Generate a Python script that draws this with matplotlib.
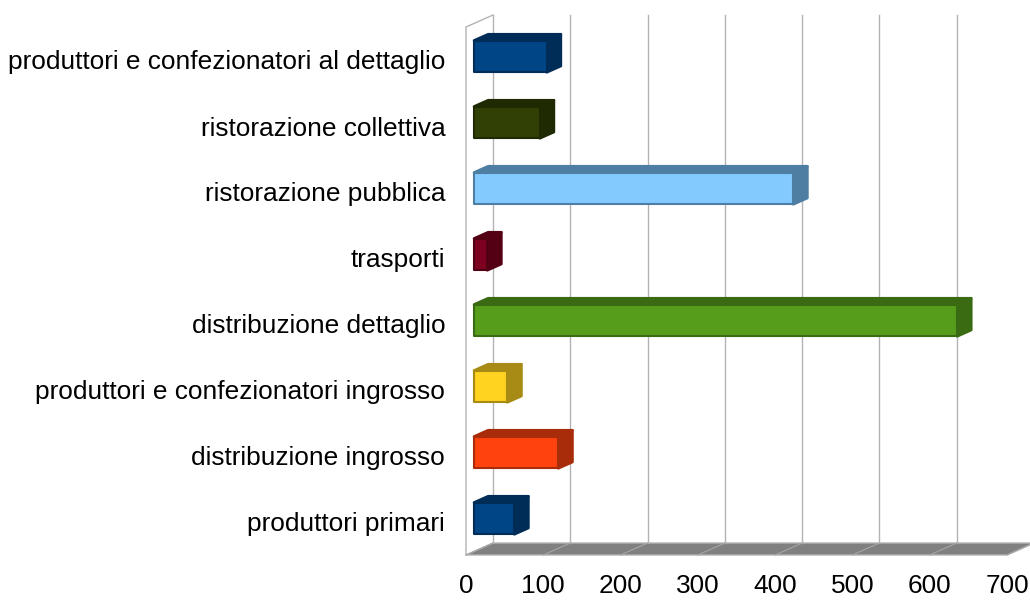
import numpy as np
import matplotlib.pyplot as plt
from matplotlib.patches import Polygon

plt.rcParams['font.family'] = ['Liberation Sans', 'DejaVu Sans']

categorie = ["produttori primari", "distribuzione ingrosso",
             "produttori e confezionatori ingrosso", "distribuzione dettaglio",
             "trasporti", "ristorazione pubblica", "ristorazione collettiva",
             "produttori e confezionatori al dettaglio"]
valori = [52, 109, 43, 625, 17, 413, 85, 94]
colori = ["#004586", "#ff420e", "#ffd320", "#579d1c",
          "#7e0021", "#83caff", "#314004", "#004586"]
scuri = ["#002d58", "#a82c09", "#a88b14", "#3a6a12",
         "#530015", "#4f7ea3", "#1f2902", "#002d58"]
tick_x = np.arange(0, 701, 100)

fig = plt.figure(figsize=(10.3, 6.03), dpi=100)
ax = fig.add_axes([466 / 1030, 48 / 603, 541 / 1030, 528 / 603])
ax.set_xlim(0, 700)
ax.set_ylim(-0.5, 7.5)

# spostamento prospettico (profondita')
dx = 27 / 541 * 700
dy = 12 / 528 * 8

# pavimento
pav = Polygon([(0, -0.5), (700, -0.5), (700 + dx, -0.5 + dy), (dx, -0.5 + dy)],
              closed=True, fc="#808080", ec="#b3b3b3", lw=1, clip_on=False, zorder=1)
ax.add_patch(pav)
for v in tick_x:
    ax.plot([v, v + dx], [-0.5, -0.5 + dy], color="#a6a6a6", lw=0.8,
            clip_on=False, zorder=2)
    ax.plot([v + dx, v + dx], [-0.5 + dy, 7.5 + dy], color="#b3b3b3", lw=1,
            clip_on=False, zorder=1)

# parete sinistra
ax.plot([0, 0, dx], [-0.5, 7.5, 7.5 + dy], color="#b3b3b3", lw=1,
        clip_on=False, zorder=1)

# barre 3D
h = 0.48
d0, d1 = 0.3, 0.82
for i, (v, c, s) in enumerate(zip(valori, colori, scuri)):
    x0 = d0 * dx
    y0 = i - h / 2 + d0 * dy
    x1 = x0 + v
    y1 = y0 + h
    ox = (d1 - d0) * dx
    oy = (d1 - d0) * dy
    top = Polygon([(x0, y1), (x1, y1), (x1 + ox, y1 + oy), (x0 + ox, y1 + oy)],
                  closed=True, fc=s, ec=s, lw=2, joinstyle="round",
                  clip_on=False, zorder=3)
    side = Polygon([(x1, y0), (x1 + ox, y0 + oy), (x1 + ox, y1 + oy), (x1, y1)],
                   closed=True, fc=s, ec=s, lw=2, joinstyle="round",
                   clip_on=False, zorder=3)
    front = Polygon([(x0, y0), (x1, y0), (x1, y1), (x0, y1)],
                    closed=True, fc=c, ec=s, lw=1.5, joinstyle="round",
                    clip_on=False, zorder=4)
    for p in (top, side, front):
        ax.add_patch(p)

ax.set_yticks(range(len(categorie)))
ax.set_yticklabels(categorie)
ax.set_xticks(tick_x)
ax.tick_params(axis="y", length=0, pad=15, labelsize=18.9)
ax.tick_params(axis="x", length=0, pad=14, labelsize=18.9)
for sp in ax.spines.values():
    sp.set_visible(False)
ax.patch.set_visible(False)

fig.savefig("out.png", dpi=100)
